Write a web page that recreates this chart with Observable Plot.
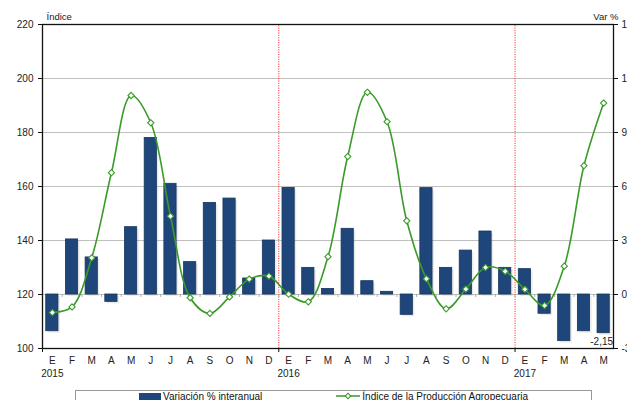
<!DOCTYPE html>
<html><head><meta charset="utf-8">
<script src="https://cdn.jsdelivr.net/npm/d3@7"></script>
<script src="https://cdn.jsdelivr.net/npm/@observablehq/plot@0.6"></script>
<style>
body{margin:0;background:#fff;font-family:"Liberation Sans",Arial,sans-serif;overflow:hidden;}
#wrap{position:relative;width:627px;height:400px;overflow:hidden;}
#legend{position:absolute;left:75px;top:390px;width:517px;height:20px;border:1px solid #999;box-sizing:border-box;display:flex;justify-content:center;gap:74px;font-size:10px;line-height:12px;color:#111;}
#legend .item{display:flex;align-items:flex-start;gap:2px;}
#legend .sw{display:inline-block;width:22px;height:9px;background:#1f467a;margin-top:2px;}
</style></head><body><div id="wrap"></div>
<script>
const months = ["E","F","M","A","M","J","J","A","S","O","N","D",
                "E","F","M","A","M","J","J","A","S","O","N","D",
                "E","F","M","A","M"];
const yearStarts = [0, 12, 24];
const years = ["2015", "2016", "2017"];
// Variación % interanual (right axis, %)
const variacion = [-2.04, 3.06, 2.06, -0.41, 3.74, 8.70, 6.15, 1.80, 5.09, 5.33, 0.89, 3.00,
                   5.92, 1.48, 0.31, 3.65, 0.74, 0.15, -1.13, 5.91, 1.48, 2.44, 3.50, 1.48,
                   1.41, -1.07, -2.59, -2.04, -2.15];
// Índice de la Producción Agropecuaria (left axis)
const indice = [113.3, 115.4, 133.6, 165.1, 193.7, 183.6, 149.0, 118.8, 113.0, 119.1, 125.7, 126.8,
                120.1, 117.3, 134.0, 171.1, 194.9, 184.0, 147.3, 125.8, 114.7, 122.0, 130.0, 128.6,
                121.9, 115.9, 130.5, 167.7, 190.9];
const leftTicks = [100, 120, 140, 160, 180, 200, 220];
const rightTickLabels = ["-3", "0", "3", "6", "9", "12", "15"];
const gridTicks = [120, 140, 160, 180, 200];

// Right axis (%) is mapped onto left axis units: 0% ↔ 120, 3% ↔ 20 index points
const toLeft = v => 120 + v * 20 / 3;
const data = months.map((m, i) => ({i, m, v: variacion[i], idx: indice[i]}));
const yearData = yearStarts.map((s, k) => ({s, y: years[k]}));
const green = "#3a9a2a";
const half = 0.31;

const plot = Plot.plot({
  width: 627, height: 386,
  marginLeft: 42, marginRight: 14, marginTop: 24, marginBottom: 38,
  style: {fontFamily: "Liberation Sans, Arial, sans-serif", fontSize: "10px", color: "#222", background: "#fff"},
  x: {type: "linear", domain: [-0.5, months.length - 0.5], axis: null},
  y: {domain: [100, 220], axis: null},
  marks: [
    Plot.ruleY(gridTicks, {stroke: "#b0b0b0", strokeWidth: 0.8}),
    Plot.ruleX(yearStarts.slice(1), {x: d => d - 0.5, y1: 100, y2: 220, stroke: "#ff3b3b", strokeDasharray: "1.2,1.2", strokeWidth: 1}),
    Plot.rectY(data, {x1: d => d.i - half, x2: d => d.i + half, y1: 120, y2: d => toLeft(d.v), fill: "#888", opacity: 0.18, dx: 2, dy: 2}),
    Plot.rectY(data, {x1: d => d.i - half, x2: d => d.i + half, y1: 120, y2: d => toLeft(d.v), fill: "#1f467a", stroke: "#16365e", strokeWidth: 0.8}),
    Plot.ruleX(d3.range(1, months.length), {x: d => d - 0.5, y1: 120, y2: 118.9, stroke: "#999", strokeWidth: 0.8}),
    Plot.line(data, {x: "i", y: "idx", stroke: green, strokeWidth: 1.6, curve: "catmull-rom"}),
    Plot.dot(data, {x: "i", y: "idx", symbol: "diamond2", r: 2.8, fill: "white", stroke: green, strokeWidth: 1.1}),
    Plot.frame({stroke: "#111", strokeWidth: 1.3}),
    Plot.axisY(leftTicks, {anchor: "left", tickSize: 4, tickPadding: 5, label: null, stroke: "#111"}),
    Plot.axisY(leftTicks, {anchor: "right", tickSize: 4, tickPadding: 4, label: null, stroke: "#111",
      tickFormat: d => rightTickLabels[leftTicks.indexOf(d)]}),
    Plot.axisX(d3.range(months.length), {anchor: "bottom", tickSize: 0, tickPadding: 8, label: null,
      tickFormat: i => months[i]}),
    Plot.ruleX(yearStarts, {x: d => d - 0.5, y1: 100, y2: 98.5, stroke: "#111", strokeWidth: 1}),
    Plot.text(yearData, {x: "s", y: 100, text: "y", dy: 25, lineAnchor: "middle"}),
    Plot.text(["Índice"], {frameAnchor: "top-left", textAnchor: "start", lineAnchor: "middle", dx: 4, dy: -7.5, fontSize: 9.5}),
    Plot.text(["Var %"], {frameAnchor: "top-right", textAnchor: "end", lineAnchor: "middle", dx: 5, dy: -7.5, fontSize: 9.5}),
    Plot.text([data[data.length - 1]], {x: "i", y: d => toLeft(d.v), text: d => String(d.v).replace(".", ","), dy: 9, dx: -2, lineAnchor: "middle"})
  ]
});
const wrap = document.getElementById("wrap");
wrap.appendChild(plot);

const legend = document.createElement("div");
legend.id = "legend";
legend.innerHTML = `<div class="item"><span class="sw"></span><span>Variación % interanual</span></div>
<div class="item"><svg width="24" height="12" style="margin-top:0px"><line x1="0" y1="5" x2="24" y2="5" stroke="${green}" stroke-width="1.5"/><path d="M12 2.2 L14.8 5 L12 7.8 L9.2 5 Z" fill="white" stroke="${green}" stroke-width="1.1"/></svg><span>Índice de la Producción Agropecuaria</span></div>`;
wrap.appendChild(legend);
</script>
</body></html>
